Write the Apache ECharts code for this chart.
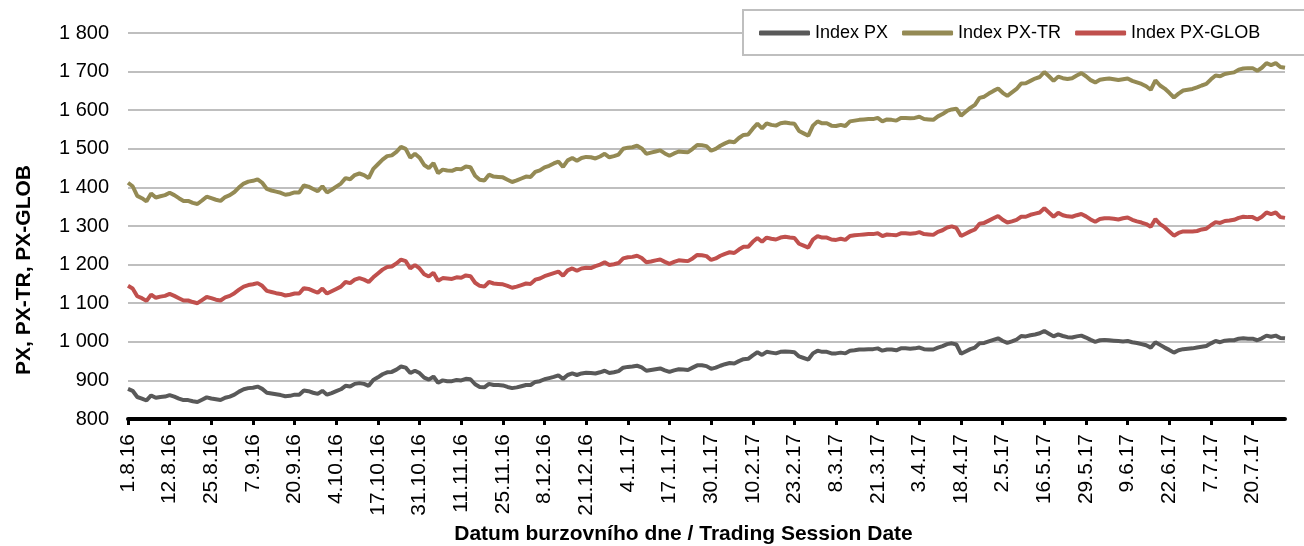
<!DOCTYPE html>
<html lang="cs">
<head>
    <meta charset="UTF-8">
    <title>PX, PX-TR, PX-GLOB</title>
    <script src="https://cdn.jsdelivr.net/npm/echarts@6/dist/echarts.min.js"></script>
    <style>html, body { margin: 0; padding: 0; background: #fff; }</style>
</head>
<body>
    <div id="graph" style="width: 1304px; height: 546px;"></div>

    <script>
        // index values, one per trading session (1.8.16 - 31.7.17)
        var pxTr = [
            1412,1403,1378,1372,1364,1384,1374,1377,1380,1386,
            1380,1372,1365,1365,1360,1357,1366,1376,1372,1368,
            1365,1375,1380,1388,1400,1410,1415,1417,1421,1412,
            1396,1392,1389,1386,1381,1383,1387,1387,1405,1402,
            1396,1390,1403,1387,1394,1402,1410,1424,1421,1432,
            1436,1432,1424,1448,1460,1472,1481,1483,1492,1505,
            1500,1477,1487,1477,1458,1450,1463,1437,1446,1444,
            1443,1448,1447,1454,1452,1430,1420,1418,1433,1428,
            1427,1426,1420,1414,1418,1423,1428,1427,1440,1444,
            1452,1456,1462,1467,1453,1470,1476,1469,1476,1479,
            1478,1475,1480,1487,1478,1481,1485,1500,1503,1504,
            1508,1501,1487,1490,1493,1496,1488,1482,1488,1493,
            1492,1491,1500,1510,1509,1507,1495,1500,1508,1514,
            1519,1517,1528,1536,1537,1552,1565,1553,1566,1562,
            1560,1566,1568,1566,1565,1546,1540,1534,1560,1571,
            1566,1566,1560,1559,1562,1559,1571,1573,1575,1576,
            1577,1577,1580,1571,1576,1575,1573,1580,1580,1579,
            1580,1583,1577,1576,1575,1584,1590,1598,1602,1604,
            1586,1596,1606,1614,1632,1635,1643,1650,1656,1645,
            1637,1646,1655,1669,1670,1676,1682,1686,1699,1688,
            1676,1687,1683,1681,1683,1690,1696,1688,1678,1672,
            1679,1681,1682,1680,1678,1680,1682,1676,1672,1668,
            1662,1653,1677,1664,1656,1645,1633,1643,1651,1653,
            1655,1659,1664,1668,1680,1690,1688,1694,1696,1698,
            1705,1708,1709,1709,1702,1710,1722,1717,1722,1712,1710
        ];
        var px = [
            878,873,857,853,848,861,855,857,858,862,
            858,853,849,849,846,844,850,856,853,851,
            849,855,858,863,871,877,880,881,884,878,
            868,866,864,862,859,860,863,863,874,872,
            868,865,873,863,867,872,877,886,884,891,
            893,891,886,901,908,916,921,922,928,936,
            933,919,925,919,907,902,910,894,900,898,
            898,901,900,904,903,890,883,882,891,888,
            888,887,883,880,882,885,888,888,896,898,
            903,906,909,913,904,914,918,914,918,920,
            919,918,921,925,919,921,924,933,935,936,
            938,934,925,927,929,931,926,922,926,929,
            928,927,933,939,939,937,930,933,938,942,
            945,944,950,955,956,965,973,966,974,972,
            970,974,975,974,973,962,958,954,970,977,
            974,974,970,970,972,970,977,978,980,980,
            981,981,983,977,980,980,978,983,983,982,
            983,985,981,980,980,985,989,994,996,993,
            969,975,981,985,996,997,1001,1005,1009,1002,
            997,1001,1006,1015,1014,1017,1019,1022,1028,1021,
            1014,1019,1015,1012,1011,1014,1016,1011,1005,1000,
            1004,1005,1004,1003,1002,1001,1002,999,997,994,
            991,985,999,992,985,979,972,978,981,982,
            983,985,987,989,996,1002,999,1003,1004,1004,
            1008,1009,1008,1008,1004,1009,1016,1013,1016,1010,1009
        ];
        var pxGlob = [
            1145,1138,1118,1113,1106,1122,1114,1117,1119,1124,
            1119,1113,1107,1107,1103,1100,1108,1116,1113,1109,
            1107,1115,1119,1126,1135,1143,1147,1149,1152,1145,
            1132,1129,1126,1124,1120,1122,1125,1125,1139,1137,
            1132,1127,1138,1125,1131,1137,1143,1155,1152,1161,
            1165,1161,1155,1167,1177,1187,1194,1195,1203,1213,
            1209,1190,1199,1190,1175,1169,1179,1158,1165,1164,
            1163,1167,1166,1172,1170,1153,1145,1143,1155,1151,
            1150,1149,1145,1140,1143,1147,1151,1150,1161,1164,
            1170,1174,1178,1182,1171,1185,1190,1184,1190,1192,
            1191,1196,1200,1206,1199,1201,1204,1216,1219,1220,
            1223,1217,1206,1208,1211,1213,1207,1202,1207,1211,
            1210,1209,1216,1225,1224,1222,1212,1216,1223,1228,
            1232,1230,1239,1246,1246,1259,1269,1259,1270,1267,
            1265,1270,1272,1270,1269,1254,1249,1244,1265,1274,
            1270,1270,1265,1264,1267,1264,1274,1276,1277,1278,
            1279,1279,1281,1274,1278,1277,1276,1281,1281,1280,
            1281,1284,1279,1278,1277,1285,1289,1296,1299,1295,
            1274,1280,1286,1291,1306,1308,1314,1320,1326,1316,
            1309,1312,1316,1324,1324,1329,1332,1335,1346,1335,
            1324,1334,1328,1325,1324,1328,1331,1325,1317,1311,
            1318,1320,1320,1319,1317,1320,1322,1316,1312,1309,
            1305,1298,1318,1305,1297,1286,1275,1282,1286,1286,
            1286,1287,1291,1293,1302,1310,1308,1313,1314,1316,
            1321,1324,1323,1323,1317,1324,1335,1331,1335,1323,1321
        ];

        // trading sessions: weekdays without exchange holidays
        var holidays = ['28.9.16', '28.10.16', '17.11.16', '26.12.16', '14.4.17',
                        '17.4.17', '1.5.17', '8.5.17', '5.7.17', '6.7.17'];
        var dates = [];
        var last = new Date(2017, 6, 31);
        for (var d = new Date(2016, 7, 1); d <= last; d.setDate(d.getDate() + 1)) {
            if (d.getDay() == 0 || d.getDay() == 6) continue;
            var lbl = d.getDate() + '.' + (d.getMonth() + 1) + '.' + String(d.getFullYear()).slice(2);
            if (holidays.indexOf(lbl) >= 0) continue;
            dates.push(lbl);
        }

        var font = "'Liberation Sans', Arial, sans-serif";

        var myChart = echarts.init(document.getElementById('graph'));
        var option = {
            animation: false,
            textStyle: { fontFamily: font },
            grid: { left: 128, right: 19, top: 33, bottom: 127, outerBoundsMode: 'none' },
            legend: {
                data: ['Index PX', 'Index PX-TR', 'Index PX-GLOB'],
                left: 743,
                top: 10,
                width: 600,
                padding: [14, 90, 13, 16],
                itemGap: 14,
                itemWidth: 51,
                itemHeight: 5,
                icon: 'roundRect',
                backgroundColor: '#fff',
                borderColor: '#bfbfbf',
                borderWidth: 2,
                textStyle: { fontSize: 18, color: '#000', fontFamily: font }
            },
            xAxis: {
                type: 'category',
                data: dates,
                boundaryGap: false,
                name: 'Datum burzovního dne / Trading Session Date',
                nameLocation: 'middle',
                nameGap: 105,
                nameTextStyle: { fontWeight: 'bold', fontSize: 21, color: '#000', fontFamily: font, padding: [0, 46, 0, 0] },
                axisLine: { lineStyle: { color: '#000', width: 4 } },
                axisTick: { interval: 8, length: 6, lineStyle: { color: '#000', width: 3 } },
                axisLabel: { interval: 8, rotate: 90, fontSize: 21, color: '#000', margin: 15, fontFamily: font },
                splitLine: { show: false }
            },
            yAxis: {
                type: 'value',
                min: 800,
                max: 1800,
                interval: 100,
                name: 'PX, PX-TR, PX-GLOB',
                nameLocation: 'middle',
                nameGap: 93,
                nameTextStyle: { fontWeight: 'bold', fontSize: 21, color: '#000', fontFamily: font, padding: [0, 88, 0, 0] },
                axisLine: { show: false },
                axisTick: { show: false },
                axisLabel: {
                    fontSize: 20,
                    color: '#000',
                    margin: 19,
                    fontFamily: font,
                    formatter: function (v) {
                        return String(v).replace(/\B(?=(\d{3})+(?!\d))/g, ' ');
                    }
                },
                splitLine: { lineStyle: { color: '#bfbfbf', width: 2 } }
            },
            series: [
                { name: 'Index PX', type: 'line', data: px, showSymbol: false, color: '#595959', lineStyle: { width: 4 } },
                { name: 'Index PX-TR', type: 'line', data: pxTr, showSymbol: false, color: '#948a54', lineStyle: { width: 4 } },
                { name: 'Index PX-GLOB', type: 'line', data: pxGlob, showSymbol: false, color: '#c0504d', lineStyle: { width: 4 } }
            ]
        };
        myChart.setOption(option);
    </script>
</body>
</html>
